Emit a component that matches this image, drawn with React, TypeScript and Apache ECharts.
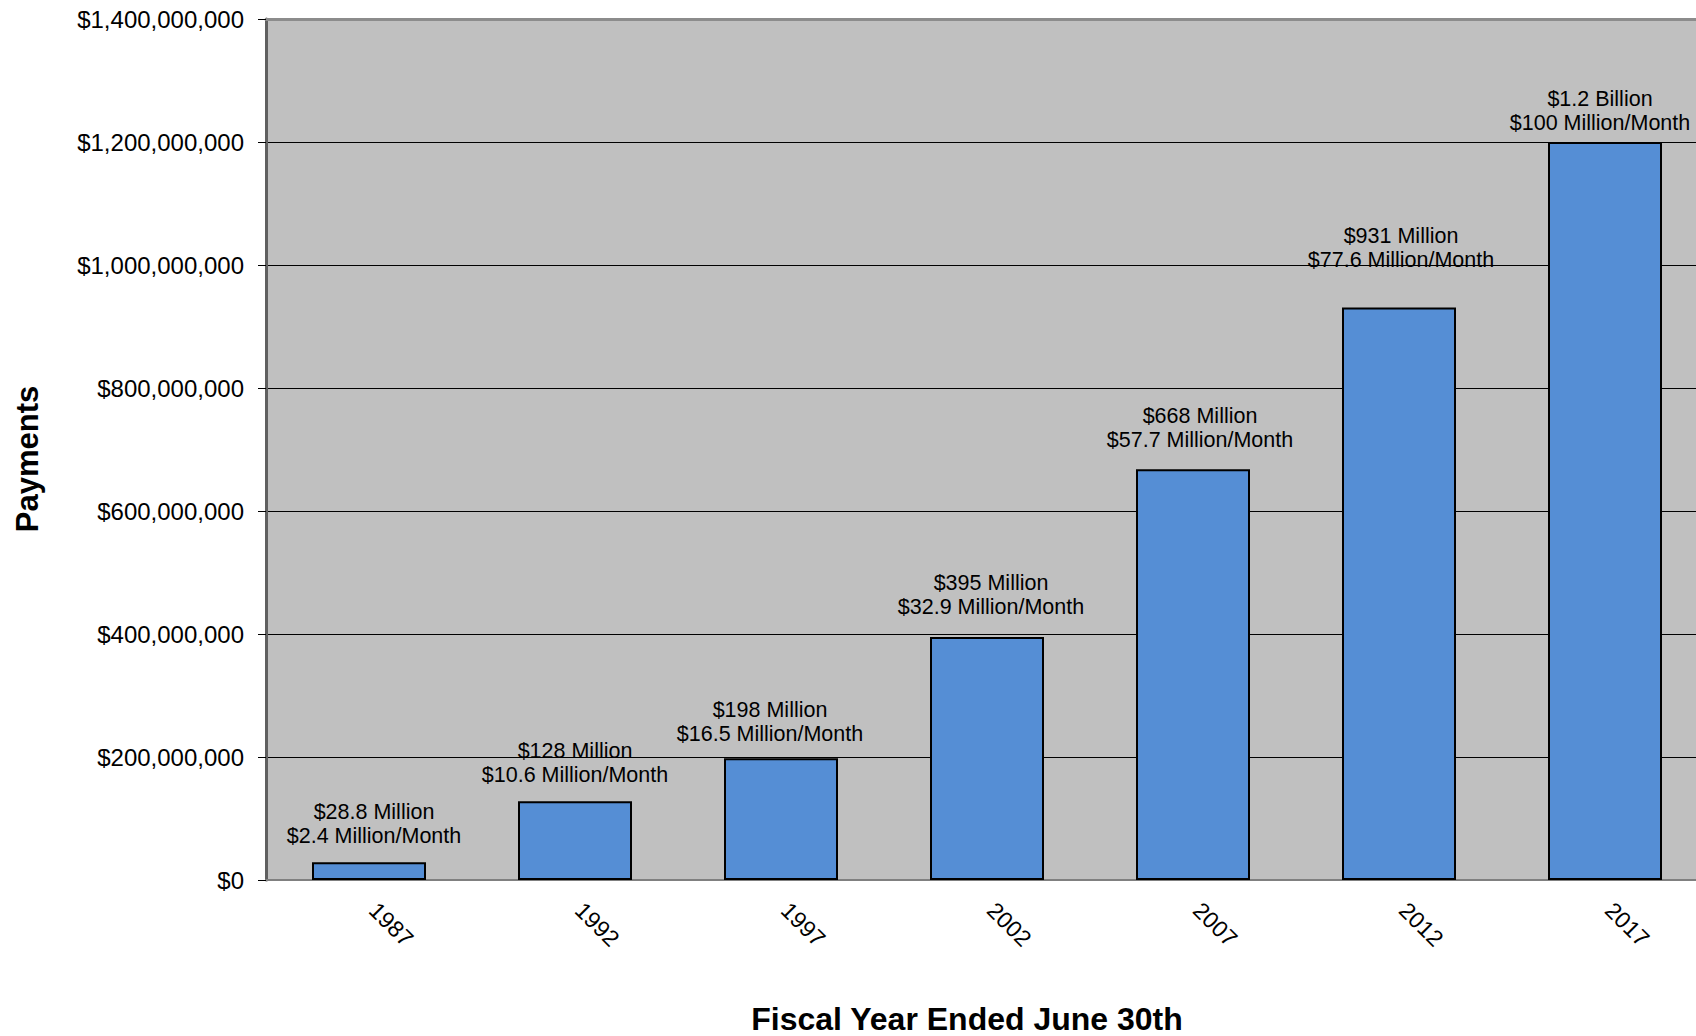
import React, { useEffect, useRef } from "react";
import * as echarts from "echarts";

const years = ["1987", "1992", "1997", "2002", "2007", "2012", "2017"];
const payments = [28800000, 128000000, 198000000, 395000000, 668000000, 931000000, 1200000000];
const totalLabels = ["$28.8 Million", "$128 Million", "$198 Million", "$395 Million", "$668 Million", "$931 Million", "$1.2 Billion"];
const monthlyLabels = [
  "$2.4 Million/Month",
  "$10.6 Million/Month",
  "$16.5 Million/Month",
  "$32.9 Million/Month",
  "$57.7 Million/Month",
  "$77.6 Million/Month",
  "$100 Million/Month",
];
const yTicks = { min: 0, max: 1400000000, interval: 200000000 };
const xTitle = "Fiscal Year Ended June 30th";
const yTitle = "Payments";

const FONT = "'Liberation Sans', Arial, sans-serif";

// label placement tweaks (style only), keyed by year
const labelTweaks: Record<string, { distance?: number; offset?: [number, number] }> = {
  "1987": { offset: [5, 0] },
  "1997": { distance: 12, offset: [-11, 0] },
  "2002": { distance: 18, offset: [4, 0] },
  "2007": { distance: 17, offset: [7, 0] },
  "2012": { distance: 35, offset: [2, 0] },
  "2017": { distance: 7, offset: [-5, 0] },
};

export default function App() {
  const ref = useRef<HTMLDivElement>(null);
  useEffect(() => {
    document.body.style.margin = "0";
    const chart = echarts.init(ref.current!, null, { renderer: "svg" });
    chart.setOption({
      animation: false,
      backgroundColor: "#ffffff",
      textStyle: { fontFamily: FONT },
      grid: {
        left: 266,
        width: 1442,
        top: 19,
        bottom: 156,
        show: true,
        backgroundColor: "#C0C0C0",
        borderWidth: 0,
        containLabel: false,
        outerBoundsMode: "none",
      },
      xAxis: [
        {
          type: "category",
          data: years,
          position: "bottom",
          axisLine: { show: true, lineStyle: { color: "#808080", width: 2 } },
          axisTick: { show: false },
          axisLabel: {
            rotate: -45,
            margin: 22,
            padding: [0, 0, 0, 6],
            color: "#000",
            fontSize: 23,
            fontFamily: FONT,
          },
        },
        {
          type: "category",
          data: years,
          position: "top",
          axisLine: { show: true, lineStyle: { color: "#8c8c8c", width: 3 } },
          axisTick: { show: false },
          axisLabel: { show: false },
        },
      ],
      yAxis: {
        type: "value",
        min: yTicks.min,
        max: yTicks.max,
        interval: yTicks.interval,
        axisLine: { show: true, lineStyle: { color: "#606060", width: 3 } },
        axisTick: { show: true, length: 8, lineStyle: { color: "#000", width: 1 } },
        splitLine: { show: true, lineStyle: { color: "#000", width: 1 } },
        axisLabel: {
          margin: 22,
          color: "#000",
          fontSize: 24,
          fontFamily: FONT,
          formatter: (v: number) => "$" + v.toLocaleString("en-US"),
        },
      },
      series: [
        {
          type: "bar",
          xAxisIndex: 0,
          data: payments.map((v, i) => {
            const t = labelTweaks[years[i]];
            return t ? { value: v, label: { ...t } } : v;
          }),
          barWidth: 114,
          itemStyle: { color: "#558ED5", borderColor: "#000", borderWidth: 2 },
          label: {
            show: true,
            position: "top",
            distance: 14,
            color: "#000",
            fontSize: 21.5,
            lineHeight: 24,
            fontFamily: FONT,
            align: "center",
            formatter: (p: any) => totalLabels[p.dataIndex] + "\n" + monthlyLabels[p.dataIndex],
          },
        },
      ],
      graphic: [
        {
          type: "text",
          x: 967,
          y: 1019,
          style: {
            text: xTitle,
            fontSize: 32,
            fontWeight: "bold",
            fontFamily: FONT,
            fill: "#000",
            align: "center",
            verticalAlign: "middle",
          },
        },
        {
          type: "text",
          x: 27,
          y: 459,
          rotation: Math.PI / 2,
          style: {
            text: yTitle,
            fontSize: 31,
            fontWeight: "bold",
            fontFamily: FONT,
            fill: "#000",
            align: "center",
            verticalAlign: "middle",
          },
        },
      ],
    });
    return () => chart.dispose();
  }, []);
  return <div ref={ref} style={{ width: 1696, height: 1036 }} />;
}
